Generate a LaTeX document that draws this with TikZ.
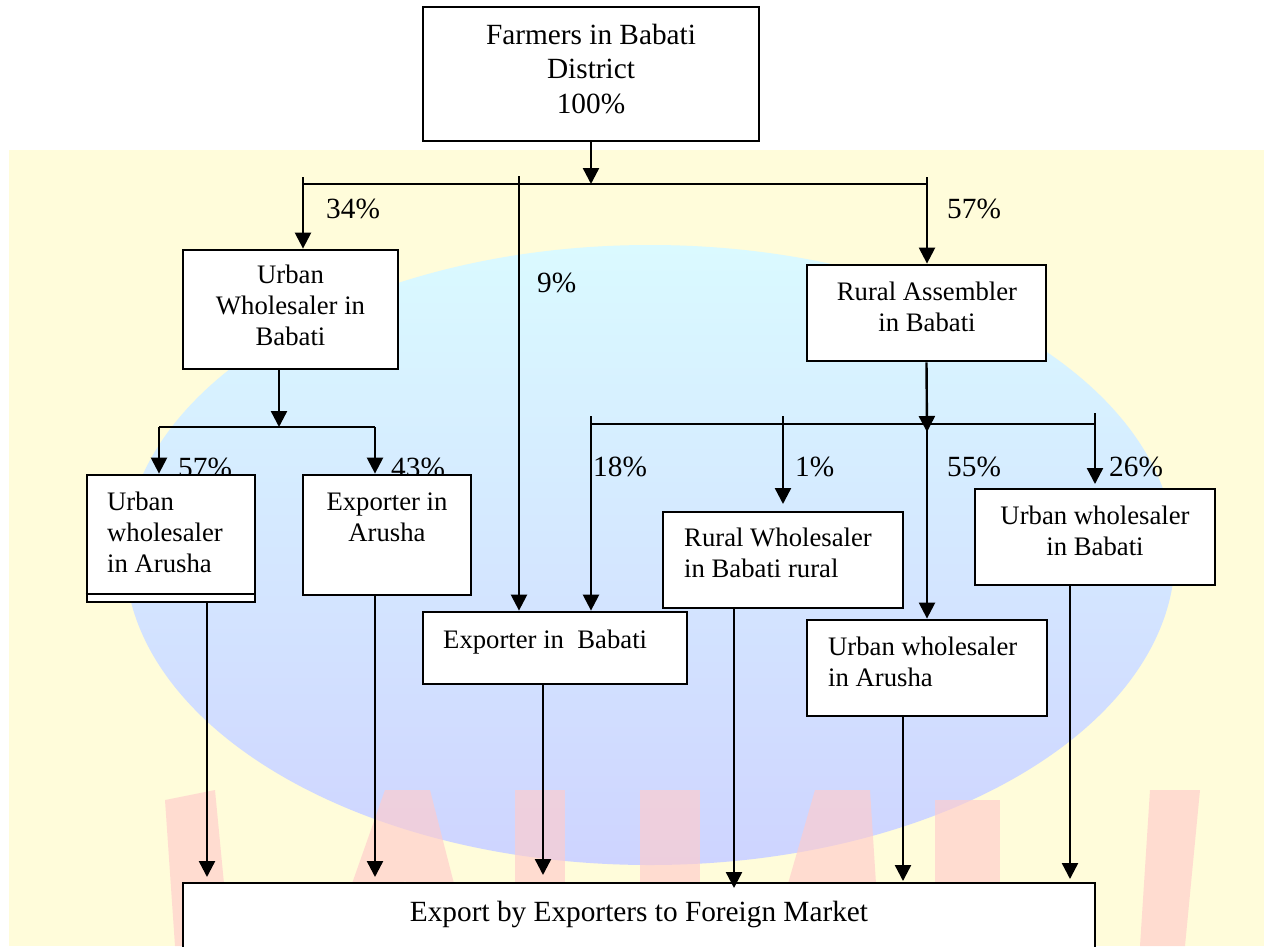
\documentclass[tikz,border=0pt]{standalone}
\usepackage{fontspec}
\setmainfont{Liberation Serif}
\usetikzlibrary{arrows.meta}
\definecolor{bgyellow}{RGB}{255,252,218}
\definecolor{globetop}{RGB}{218,250,255}
\definecolor{globemid}{RGB}{205,232,255}
\definecolor{globebot}{RGB}{206,212,255}
\definecolor{pinkmark}{RGB}{255,204,204}
\begin{document}
\begin{tikzpicture}[x=1pt,y=-1pt,
  box/.style={draw,line width=2.8pt,fill=white,inner sep=0pt},
  ln/.style={line width=2.4pt},
  arr/.style={line width=2.4pt,-{Triangle[length=16pt,width=16pt]}},
  btxt/.style={inner sep=0pt,font=\fontsize{26.7}{31}\selectfont},
  ltxt/.style={inner sep=0pt,font=\fontsize{29.3}{34.5}\selectfont,anchor=base west}]
\useasboundingbox (0,0) rectangle (1264,946);
\clip (0,0) rectangle (1264,946);
% background watermark
\fill[bgyellow] (9,150) rectangle (1264,946);
\shade[top color=globetop,middle color=globemid,bottom color=globebot] (650,555) ellipse [x radius=525pt, y radius=310pt];
\begin{scope}[opacity=0.65]
\fill[pinkmark] (165,800) -- (215,790) -- (230,946) -- (175,946) -- cycle;
\fill[pinkmark] (330,946) -- (385,790) -- (430,790) -- (470,946) -- (420,946) -- (405,880) -- (390,946) -- cycle;
\fill[pinkmark] (515,790) -- (565,790) -- (565,946) -- (515,946) -- cycle;
\fill[pinkmark] (640,790) -- (700,790) -- (700,946) -- (640,946) -- cycle;
\fill[pinkmark] (770,946) -- (815,790) -- (870,790) -- (880,946) -- cycle;
\fill[pinkmark] (935,800) -- (1000,800) -- (1000,946) -- (935,946) -- cycle;
\fill[pinkmark] (1150,790) -- (1200,790) -- (1185,946) -- (1140,946) -- cycle;
\end{scope}

% percentage labels (under boxes)
\node[ltxt] (l34) at (326,218) {34\%};
\node[ltxt] (l9) at (537,292) {9\%};
\node[ltxt] (l57a) at (947,218) {57\%};
\node[ltxt] (l57b) at (178,477) {57\%};
\node[ltxt] (l43) at (391,477) {43\%};
\node[ltxt] (l18) at (593,476) {18\%};
\node[ltxt] (l1) at (795,476) {1\%};
\node[ltxt] (l55) at (947,476) {55\%};
\node[ltxt] (l26) at (1109,476) {26\%};

% boxes
\node[box,minimum width=336pt,minimum height=134pt] (farmers) at (591,74) {};
\node[box,minimum width=215pt,minimum height=119pt] (uwb) at (290.5,309.5) {};
\node[box,minimum width=239pt,minimum height=96pt] (ra) at (926.5,313) {};
\node[box,minimum width=168pt,minimum height=127pt] (uwa) at (171,538.5) {};
\node[box,minimum width=168pt,minimum height=120pt] (ea) at (387,535) {};
\node[box,minimum width=264pt,minimum height=72pt] (eb) at (555,648) {};
\node[box,minimum width=240pt,minimum height=96pt] (rw) at (783,560) {};
\node[box,minimum width=240pt,minimum height=96pt] (uwbr) at (1095,537) {};
\node[box,minimum width=240pt,minimum height=96pt] (uwar) at (927,668) {};
\node[box,minimum width=912pt,minimum height=90pt] (exp) at (639,928) {};
\draw[line width=2.8pt] (uwa.west |- 0,594) -- (uwa.east |- 0,594);

% box texts (anchor base = baseline of the last line)
\node[btxt,align=center,anchor=base,font=\fontsize{29.3}{34.5}\selectfont] (farmers-t) at (591,113) {Farmers in Babati\\District\\100\%};
\node[btxt,align=center,anchor=base] (uwb-t) at (290.5,345) {Urban\\Wholesaler in\\Babati};
\node[btxt,align=center,anchor=base] (ra-t) at (927,331) {Rural Assembler\\in Babati};
\node[btxt,align=left,anchor=base west] (uwa-t) at (107,572) {Urban\\wholesaler\\in Arusha};
\node[btxt,align=center,anchor=base] (ea-t) at (387,541) {Exporter in\\Arusha};
\node[btxt,anchor=base west] (eb-t) at (443,648) {Exporter in\ \ Babati};
\node[btxt,align=left,anchor=base west] (rw-t) at (684,577) {Rural Wholesaler\\in Babati rural};
\node[btxt,align=center,anchor=base] (uwbr-t) at (1095,555) {Urban wholesaler\\in Babati};
\node[btxt,align=left,anchor=base west] (uwar-t) at (828,686) {Urban wholesaler\\in Arusha};
\node[btxt,anchor=base,font=\fontsize{29.3}{34.5}\selectfont] (exp-t) at (639,921) {Export by Exporters to Foreign Market};

% junction coordinates
\coordinate (j1) at (591,184);
\coordinate (t34) at (303,177);
\coordinate (t9) at (519,176);
\coordinate (t57) at (927,177);
\coordinate (j2) at (279,427);
\coordinate (j2L) at (159,427);
\coordinate (j2R) at (375,427);
\coordinate (j3) at (927,424);
\coordinate (j3tip) at (927,432);
\coordinate (t18) at (591,416);
\coordinate (t1) at (783,416);
\coordinate (t26) at (1095,413);
\coordinate (h1) at (783,504);
\coordinate (h26) at (1095,484);
\coordinate (e1) at (207,877);
\coordinate (e2) at (375,877);
\coordinate (e3) at (543,875);
\coordinate (e4) at (734,888);
\coordinate (e5) at (903,881);
\coordinate (e6) at (1070,879);

% connectors
\draw[arr] (farmers.south) -- (j1);
\draw[ln] (t34 |- j1) -- (t57 |- j1);
\draw[arr] (t34) -- (t34 |- uwb.north);
\draw[arr] (t9) -- (t9 |- eb.north);
\draw[arr] (t57) -- (t57 |- ra.north);

\draw[arr] (uwb.south -| j2) -- (j2);
\draw[ln] (j2L) -- (j2R);
\draw[arr] (j2L) -- (j2L |- uwa.north);
\draw[arr] (j2R) -- (j2R |- ea.north);

\draw[arr] (ra.south) -- (j3tip);
\draw[ln] (t18 |- j3) -- (t26 |- j3);
\draw[arr] (t18) -- (t18 |- eb.north);
\draw[arr] (t1) -- (h1);
\draw[arr] (j3) -- (j3 |- uwar.north);
\draw[arr] (t26) -- (h26);

\draw[arr] (e1 |- uwa.south) -- (e1);
\draw[arr] (e2 |- ea.south) -- (e2);
\draw[arr] (e3 |- eb.south) -- (e3);
\draw[arr] (e4 |- rw.south) -- (e4);
\draw[arr] (e5 |- uwar.south) -- (e5);
\draw[arr] (e6 |- uwbr.south) -- (e6);
\end{tikzpicture}
\end{document}
